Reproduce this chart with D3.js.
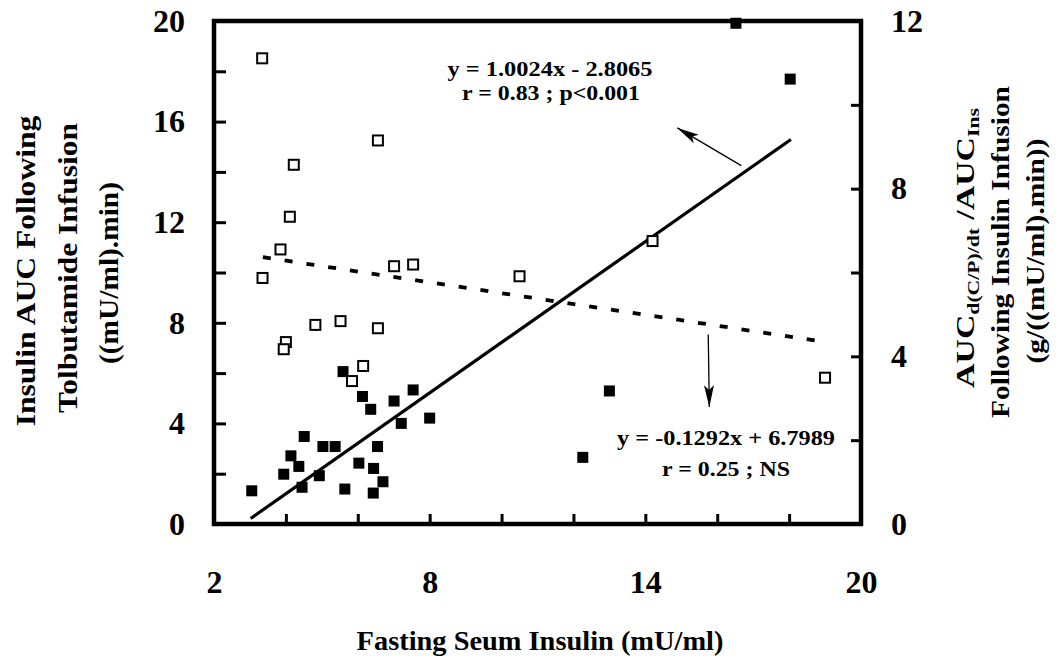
<!DOCTYPE html>
<html lang="en">
<head>
<meta charset="UTF-8" />
<title>Fasting insulin scatter</title>
<script src="https://cdn.jsdelivr.net/npm/d3@7"></script>
<style>
  body { margin: 0; background: #fff; }
  text { font-family: "Liberation Serif", "Times New Roman", serif; font-weight: bold; fill: #000; }
</style>
</head>
<body>
<div id="chart"></div>
<script>
// fasting serum insulin (x) vs insulin AUC after tolbutamide (left axis, filled squares)
var insulinX   = [3.05, 3.94, 4.14, 4.36, 4.45, 4.51, 4.93, 5.03, 5.37, 5.59, 5.64, 6.03, 6.13,
                  6.36, 6.43, 6.44, 6.55, 6.70, 7.01, 7.21, 7.54, 8.00, 12.26, 13.00, 16.52, 18.03];
var insulinAUC = [1.32, 1.98, 2.71, 2.29, 1.46, 3.48, 1.92, 3.08, 3.08, 6.06, 1.39, 2.42, 5.07,
                  4.56, 1.23, 2.21, 3.08, 1.68, 4.89, 4.00, 5.33, 4.21, 2.65, 5.29, 19.91, 17.69];

// AUC ratio after insulin infusion (right axis, open squares)
var ratioX = [3.34, 4.22, 6.56, 4.11, 3.85, 3.35, 7.01, 7.54, 10.50, 14.20, 19.00,
              4.82, 5.52, 6.56, 4.00, 3.94, 6.15, 5.84];
var ratioY = [11.11, 8.57, 9.15, 7.33, 6.55, 5.87, 6.15, 6.19, 5.91, 6.75, 3.49,
              4.75, 4.84, 4.67, 4.34, 4.17, 3.77, 3.41];

// regression lines: [slope, intercept], x extent
var fitAUC = [1.0024, -2.8065], fitAUCRange = [3.02, 18.05];
var fitRatio = [-0.1292, 6.7989], fitRatioRange = [3.36, 18.92];

var xTicks = [2, 4, 6, 8, 10, 12, 14, 16, 18, 20];
var xLabels = [2, 8, 14, 20];
var leftTicks = [0, 2, 4, 6, 8, 10, 12, 14, 16, 18, 20];
var leftLabels = [0, 4, 8, 12, 16, 20];
var rightTicks = [0, 2, 4, 6, 8, 10, 12];
var rightLabels = [0, 4, 8, 12];

var width = 1064, height = 661;

var svg = d3.select('#chart').append('svg')
    .attr('width', width)
    .attr('height', height);

svg.append('rect').attr('width', width).attr('height', height).attr('fill', '#fff');

var x = d3.scaleLinear().domain([2, 20]).range([214, 861]);
var yL = d3.scaleLinear().domain([0, 20]).range([524, 21]);
var yR = d3.scaleLinear().domain([0, 12]).range([524, 21]);

// arrow head
svg.append('defs').append('marker')
    .attr('id', 'head')
    .attr('viewBox', '0 0 22 12')
    .attr('refX', 22).attr('refY', 6)
    .attr('markerWidth', 22).attr('markerHeight', 12)
    .attr('markerUnits', 'userSpaceOnUse')
    .attr('orient', 'auto')
    .append('path')
    .attr('d', 'M0,1 L22,6 L0,11 L5,6 Z')
    .attr('fill', '#000');

// stretch a text so that it covers a given length (the scan is distorted)
function fitText(x0, y0, angle, len, size, build) {
    var g = svg.append('g').attr('transform', 'translate(' + x0 + ',' + y0 + ') rotate(' + angle + ')');
    var t = g.append('text').attr('text-anchor', 'middle').attr('font-size', size + 'px');
    build(t);
    var w = t.node().getComputedTextLength();
    t.attr('transform', 'scale(' + (len / w) + ',1)');
    return t;
}

function styleAxis(g) {
    g.select('.domain').remove();
    g.selectAll('.tick line').attr('stroke', '#000').attr('stroke-width', 3);
    g.selectAll('.tick text')
        .attr('font-size', '32px')
        .attr('font-family', '"Liberation Serif", serif')
        .attr('font-weight', 'bold')
        .attr('fill', '#000');
}

svg.append('g')
    .attr('transform', 'translate(0,' + yL(0) + ')')
    .call(d3.axisBottom(x).tickValues(xTicks).tickSize(-10).tickSizeOuter(0).tickPadding(46)
        .tickFormat(function (d) { return xLabels.indexOf(d) >= 0 ? d : ''; }))
    .call(styleAxis);

svg.append('g')
    .attr('transform', 'translate(' + x(2) + ',0)')
    .call(d3.axisLeft(yL).tickValues(leftTicks).tickSize(-12).tickSizeOuter(0).tickPadding(29)
        .tickFormat(function (d) { return leftLabels.indexOf(d) >= 0 ? d : ''; }))
    .call(styleAxis);

svg.append('g')
    .attr('transform', 'translate(' + x(20) + ',0)')
    .call(d3.axisRight(yR).tickValues(rightTicks).tickSize(-10).tickSizeOuter(0).tickPadding(30)
        .tickFormat(function (d) { return rightLabels.indexOf(d) >= 0 ? d : ''; }))
    .call(styleAxis);

// frame
svg.append('rect')
    .attr('x', x(2)).attr('y', yL(20))
    .attr('width', x(20) - x(2)).attr('height', yL(0) - yL(20))
    .attr('fill', 'none').attr('stroke', '#000').attr('stroke-width', 4.5);

// filled squares
var filled = insulinX.map(function (v, i) { return [v, insulinAUC[i]]; });
svg.selectAll('.filled')
    .data(filled)
    .enter().append('rect')
    .attr('class', 'filled')
    .attr('x', function (d) { return x(d[0]) - 5.5; })
    .attr('y', function (d) { return yL(d[1]) - 5.5; })
    .attr('width', 11).attr('height', 11)
    .attr('fill', '#000');

// fit lines
var line = d3.line();
svg.append('path')
    .attr('d', line(fitAUCRange.map(function (v) { return [x(v), yL(fitAUC[0] * v + fitAUC[1])]; })))
    .attr('stroke', '#000').attr('stroke-width', 3.2).attr('fill', 'none');

svg.append('path')
    .attr('d', line(fitRatioRange.map(function (v) { return [x(v), yR(fitRatio[0] * v + fitRatio[1])]; })))
    .attr('stroke', '#000').attr('stroke-width', 3.8).attr('fill', 'none')
    .attr('stroke-dasharray', '8,14');

// open squares
var open = ratioX.map(function (v, i) { return [v, ratioY[i]]; });
svg.selectAll('.open')
    .data(open)
    .enter().append('rect')
    .attr('class', 'open')
    .attr('x', function (d) { return x(d[0]) - 5; })
    .attr('y', function (d) { return yR(d[1]) - 5; })
    .attr('width', 10).attr('height', 10)
    .attr('fill', '#fff').attr('stroke', '#000').attr('stroke-width', 2);

// arrows
svg.append('line')
    .attr('x1', x(16.67)).attr('y1', yL(14.25))
    .attr('x2', x(14.89)).attr('y2', yL(15.75))
    .attr('stroke', '#000').attr('stroke-width', 1.3)
    .attr('marker-end', 'url(#head)');

svg.append('line')
    .attr('x1', x(15.75)).attr('y1', yR(4.52))
    .attr('x2', x(15.78)).attr('y2', yR(2.79))
    .attr('stroke', '#000').attr('stroke-width', 1.3)
    .attr('marker-end', 'url(#head)');

// equations
fitText(550, 76, 0, 205, 20, function (t) { t.text('y = 1.0024x - 2.8065'); });
fitText(551, 100, 0, 178, 20, function (t) { t.text('r = 0.83 ; p<0.001'); });
fitText(726, 445, 0, 218, 20, function (t) { t.text('y = -0.1292x + 6.7989'); });
fitText(726, 476, 0, 128, 20, function (t) { t.text('r = 0.25 ; NS'); });

// axis titles
fitText(540, 650, 0, 367, 28, function (t) { t.text('Fasting Seum Insulin (mU/ml)'); });

fitText(35, 271, -90, 311, 27, function (t) { t.text('Insulin AUC Following'); });
fitText(77, 268, -90, 290, 27, function (t) { t.text('Tolbutamide Infusion'); });
fitText(118, 273, -90, 182, 27, function (t) { t.text('((mU/ml).min)'); });

fitText(974, 248, -90, 280, 25, function (t) {
    t.append('tspan').text('AUC');
    t.append('tspan').attr('font-size', '16px').attr('dy', 5).text('d(C/P)/dt');
    t.append('tspan').attr('dy', -5).text(' /AUC');
    t.append('tspan').attr('font-size', '16px').attr('dy', 5).text('Ins');
});
fitText(1009, 252, -90, 332, 25, function (t) { t.text('Following Insulin Infusion'); });
fitText(1044, 251, -90, 225, 25, function (t) { t.text('(g/((mU/ml).min))'); });
</script>
</body>
</html>
